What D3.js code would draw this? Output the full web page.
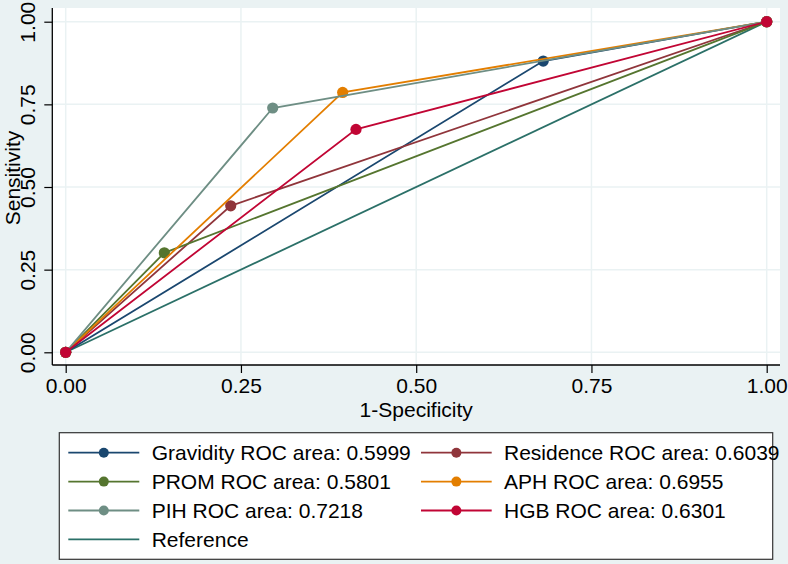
<!DOCTYPE html>
<html>
<head>
<meta charset="utf-8">
<script src="https://cdn.jsdelivr.net/npm/d3@7"></script>
<style>
  html, body { margin: 0; padding: 0; background: #EAF2F3; }
  svg { display: block; }
  text { font-family: Arial, "Liberation Sans", Helvetica, sans-serif; fill: #000; }
</style>
</head>
<body>
<svg id="chart" width="788" height="564"></svg>
<script>
// ---- data ----
const seriesNames = ["Gravidity", "Residence", "PROM", "APH", "PIH", "HGB"];
const rocAreas = ["0.5999", "0.6039", "0.5801", "0.6955", "0.7218", "0.6301"];
const fprValues = [0.6812, 0.2354, 0.1407, 0.3951, 0.2953, 0.4141];   // 1-Specificity at cut point
const tprValues = [0.8810, 0.4432, 0.3009, 0.7861, 0.7389, 0.6743];   // Sensitivity at cut point
const seriesColors = ["#1a476f", "#90353b", "#55752f", "#e37e00", "#6e8e84", "#c10534"];
const referenceColor = "#2b7068";
const xTicks = [0, 0.25, 0.5, 0.75, 1];
const yTicks = [0, 0.25, 0.5, 0.75, 1];
const tickLabels = ["0.00", "0.25", "0.50", "0.75", "1.00"];

// ---- layout ----
const svg = d3.select("#chart");
const W = 788, H = 564;
const FONT = 21;
const plot = { left: 52.3, top: 8, right: 780, bottom: 365 };

svg.append("rect").attr("width", W).attr("height", H).attr("fill", "#EAF2F3");
svg.append("rect")
  .attr("x", plot.left).attr("y", plot.top)
  .attr("width", plot.right - plot.left).attr("height", plot.bottom - plot.top)
  .attr("fill", "#ffffff");

const x = d3.scaleLinear().domain([0, 1]).range([65.7, 766.7]);
const y = d3.scaleLinear().domain([0, 1]).range([352.3, 21.7]);

// grid
svg.append("g").selectAll("line").data(xTicks).join("line")
  .attr("x1", d => x(d)).attr("x2", d => x(d))
  .attr("y1", plot.top).attr("y2", plot.bottom)
  .attr("stroke", "#EAF2F3").attr("stroke-width", 1.5);
svg.append("g").selectAll("line").data(yTicks).join("line")
  .attr("y1", d => y(d)).attr("y2", d => y(d))
  .attr("x1", plot.left).attr("x2", plot.right)
  .attr("stroke", "#EAF2F3").attr("stroke-width", 1.5);

// axes
const xAxis = d3.axisBottom(x).tickValues(xTicks).tickSize(8).tickFormat((d, i) => tickLabels[i]);
const gx = svg.append("g").attr("transform", `translate(0,${plot.bottom})`).call(xAxis);
gx.select(".domain").remove();
gx.selectAll(".tick line").attr("stroke", "#000").attr("stroke-width", 1.2);
gx.selectAll(".tick text").attr("font-size", FONT).attr("dy", null).attr("y", 28)
  .attr("font-family", "Arial, 'Liberation Sans', sans-serif").attr("fill", "#000");
svg.append("line").attr("x1", plot.left).attr("x2", plot.right)
  .attr("y1", plot.bottom).attr("y2", plot.bottom).attr("stroke", "#000").attr("stroke-width", 1.3);

const yAxis = d3.axisLeft(y).tickValues(yTicks).tickSize(8).tickFormat((d, i) => tickLabels[i]);
const gy = svg.append("g").attr("transform", `translate(${plot.left},0)`).call(yAxis);
gy.select(".domain").remove();
gy.selectAll(".tick line").attr("stroke", "#000").attr("stroke-width", 1.2);
gy.selectAll(".tick text")
  .attr("font-size", FONT).attr("font-family", "Arial, 'Liberation Sans', sans-serif").attr("fill", "#000")
  .attr("x", null).attr("dy", null)
  .attr("text-anchor", "middle")
  .attr("transform", `translate(${35 - plot.left},0) rotate(-90)`);
svg.append("line").attr("x1", plot.left).attr("x2", plot.left)
  .attr("y1", plot.top).attr("y2", plot.bottom).attr("stroke", "#000").attr("stroke-width", 1.3);

// axis titles
svg.append("text").attr("x", (x(0) + x(1)) / 2).attr("y", 416.5)
  .attr("text-anchor", "middle").attr("font-size", FONT).text("1-Specificity");
svg.append("text").attr("transform", "translate(19.5,178) rotate(-90)")
  .attr("text-anchor", "middle").attr("font-size", FONT).text("Sensitivity");

// lines
const line = d3.line().x(d => x(d[0])).y(d => y(d[1]));
svg.append("path").datum([[0, 0], [1, 1]]).attr("d", line)
  .attr("fill", "none").attr("stroke", referenceColor).attr("stroke-width", 1.8);

seriesNames.forEach((name, i) => {
  const pts = [[0, 0], [fprValues[i], tprValues[i]], [1, 1]];
  const g = svg.append("g");
  g.append("path").datum(pts).attr("d", line)
    .attr("fill", "none").attr("stroke", seriesColors[i]).attr("stroke-width", 1.8);
  g.selectAll("circle").data(pts).join("circle")
    .attr("cx", d => x(d[0])).attr("cy", d => y(d[1])).attr("r", 5.6)
    .attr("fill", seriesColors[i]);
});

// legend
const legend = svg.append("g");
legend.append("rect").attr("x", 59.3).attr("y", 432.7).attr("width", 713.4).attr("height", 126.6)
  .attr("fill", "#ffffff").attr("stroke", "#333").attr("stroke-width", 1.2);

const legendItems = seriesNames.map((n, i) => ({ label: `${n} ROC area: ${rocAreas[i]}`, color: seriesColors[i], marker: true }));
legendItems.push({ label: "Reference", color: referenceColor, marker: false });
const colSeg = [[68.3, 139.3, 151.7], [421, 491.7, 504]];
const rowY = [452.7, 481.6, 510.5, 539.4];
legendItems.forEach((it, i) => {
  const c = i % 2, r = Math.floor(i / 2);
  const [x1, x2, tx] = colSeg[c];
  const cy = rowY[r];
  legend.append("line").attr("x1", x1).attr("x2", x2).attr("y1", cy).attr("y2", cy)
    .attr("stroke", it.color).attr("stroke-width", 1.8);
  if (it.marker) legend.append("circle").attr("cx", (x1 + x2) / 2).attr("cy", cy).attr("r", 5)
    .attr("fill", it.color);
  legend.append("text").attr("x", tx).attr("y", cy + 7.5).attr("font-size", FONT).text(it.label);
});
</script>
</body>
</html>
